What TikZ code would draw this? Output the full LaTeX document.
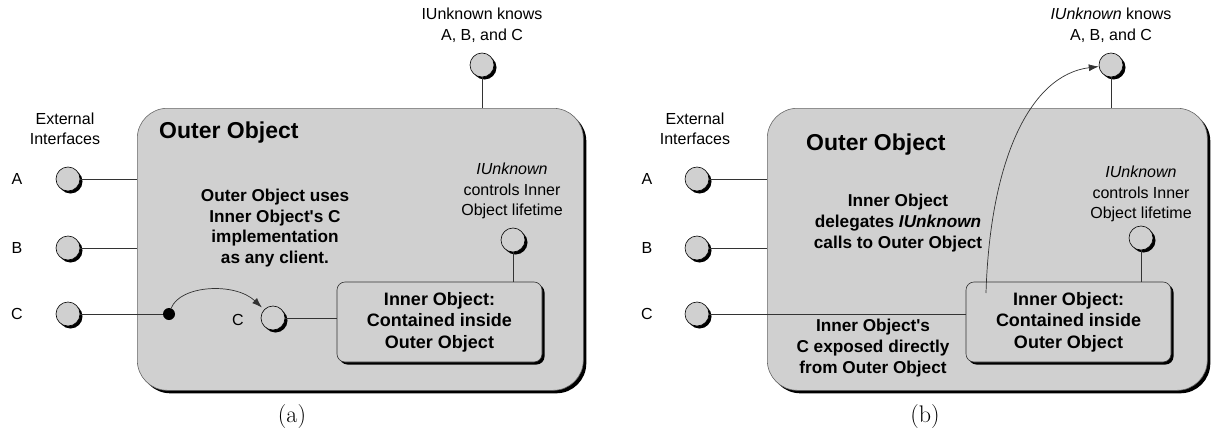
\documentclass[tikz,border=0pt]{standalone}
\usepackage{fontspec}
\newfontfamily\sansf{Liberation Sans}
\usetikzlibrary{shadows,arrows.meta}
\definecolor{boxgray}{RGB}{208,208,208}
\tikzset{
  shad/.style={drop shadow={shadow xshift=#1, shadow yshift=-#1, fill=black, opacity=1}},
  ifc/.style={circle, draw=black, line width=0.6pt, fill=boxgray, minimum size=24pt, inner sep=0pt, shad=2.5pt},
  outerbox/.style={draw=black!60, line width=0.6pt, fill=boxgray, rounded corners=30pt, anchor=north west, minimum height=282pt, shad=3pt},
  innerbox/.style={draw=black!80, line width=0.6pt, fill=boxgray, rounded corners=8pt, minimum width=205pt, minimum height=80pt, align=center, inner sep=0pt, shad=2.5pt, font=\sansf\bfseries\fontsize{18}{21.5}\selectfont},
  conn/.style={draw=black!80, line width=0.7pt},
  arr/.style={conn, -{Latex[length=10pt,width=7pt]}},
  lbl/.style={font=\sansf\fontsize{16}{20.5}\selectfont, align=center, inner sep=0pt},
  blbl/.style={font=\sansf\bfseries\fontsize{17.2}{20.8}\selectfont, align=center, inner sep=0pt},
  ttl/.style={font=\sansf\bfseries\fontsize{23}{27}\selectfont, anchor=west, inner sep=0pt},
  capt/.style={font=\fontsize{24}{28}\selectfont, inner sep=0pt},
  dot/.style={circle, fill=black, minimum size=12pt, inner sep=0pt},
}
\begin{document}
\begin{tikzpicture}[x=1pt,y=-1pt]
\useasboundingbox (0,0) rectangle (1211,434);

% ================= panel (a) =================
\node[outerbox, minimum width=446pt] (OA) at (137,108) {};
\node[ttl] (titleA) at (159,133) {Outer Object};
\node[innerbox] (IA) at (439.5,322) {Inner Object:\\Contained inside\\Outer Object};

\node[lbl] (extA) at (65,129) {External\\Interfaces};
\node[lbl] (lAa) at (17,179) {A};
\node[lbl] (lBa) at (17,248) {B};
\node[lbl] (lCa) at (17,314) {C};
\node[ifc] (Aa) at (68,179) {};
\node[ifc] (Ba) at (68,248) {};
\node[ifc] (Ca) at (68,314) {};
\draw[conn] (Aa) -- (Aa -| OA.west);
\draw[conn] (Ba) -- (Ba -| OA.west);

\node[dot] (dA) at (169,314) {};
\draw[conn] (Ca) -- (dA);

\node[lbl] (lCin) at (238,320) {C};
\node[ifc] (Cin) at (273,318) {};
\draw[conn] (Cin) -- (Cin -| IA.west);
\draw[arr, shorten >=3pt] (dA) .. controls (180,285) and (235,282) .. (Cin);

\node[blbl] (usesA) at (275,228) {Outer Object uses\\Inner Object's C\\implementation\\as any client.};

\node[lbl] (knowsA) at (482,25) {IUnknown knows\\A, B, and C};
\node[ifc] (TA) at (482,65) {};
\draw[conn] (TA) -- (TA |- OA.north);

\node[lbl] (ctrlA) at (512,191) {\textit{IUnknown}\\controls Inner\\Object lifetime};
\node[ifc] (CtA) at (513,240) {};
\draw[conn] (CtA) -- (CtA |- IA.north);

\node[capt] (capA) at (292,417) {(a)};

% ================= panel (b) =================
\node[outerbox, minimum width=440pt] (OB) at (767,108) {};
\node[ttl] (titleB) at (806,145) {Outer Object};
\node[innerbox] (IB) at (1068.5,322) {Inner Object:\\Contained inside\\Outer Object};

\node[lbl] (extB) at (695,129) {External\\Interfaces};
\node[lbl] (lAb) at (647,179) {A};
\node[lbl] (lBb) at (647,248) {B};
\node[lbl] (lCb) at (647,314) {C};
\node[ifc] (Ab) at (697,179) {};
\node[ifc] (Bb) at (697,248) {};
\node[ifc] (Cb) at (697,314) {};
\draw[conn] (Ab) -- (Ab -| OB.west);
\draw[conn] (Bb) -- (Bb -| OB.west);
\draw[conn] (Cb) -- (Cb -| IB.west);

\node[blbl] (delegB) at (898,223) {Inner Object\\delegates \textit{IUnknown}\\calls to Outer Object};
\node[blbl] (exposB) at (873,348) {Inner Object's\\C exposed directly\\from Outer Object};

\node[lbl] (knowsB) at (1111,25) {\textit{IUnknown} knows\\A, B, and C};
\node[ifc] (TB) at (1111,65) {};
\draw[conn] (TB) -- (TB |- OB.north);

\node[lbl] (ctrlB) at (1141,194) {\textit{IUnknown}\\controls Inner\\Object lifetime};
\node[ifc] (CtB) at (1141,238) {};
\draw[conn] (CtB) -- (CtB |- IB.north);

\coordinate (startB) at (986,293);
\draw[arr] (startB) .. controls (990,160) and (1030,75) .. (TB);

\node[capt] (capB) at (925,417) {(b)};
\end{tikzpicture}
\end{document}
